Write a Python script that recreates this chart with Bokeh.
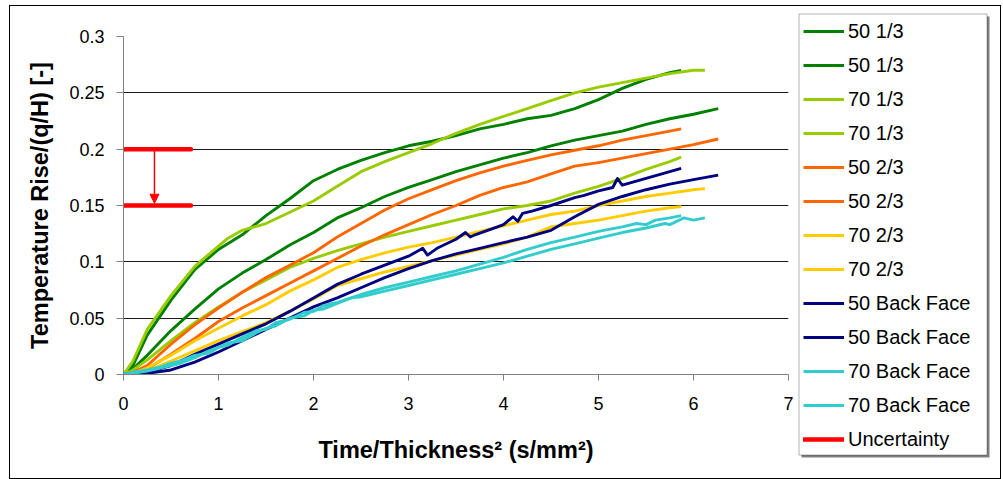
from bokeh.plotting import figure
from bokeh.layouts import row
from bokeh.models import (Range1d, FixedTicker, Legend, LegendItem, Arrow,
                          NormalHead, BoxAnnotation)
from bokeh.embed import file_html
from bokeh.resources import INLINE

# ---------------- data ----------------
x_ticks = [0, 1, 2, 3, 4, 5, 6, 7]
y_ticks = [0, 0.05, 0.1, 0.15, 0.2, 0.25, 0.3]
y_tick_labels = ["0", "0.05", "0.1", "0.15", "0.2", "0.25", "0.3"]

series_names = ["50 1/3", "50 1/3", "70 1/3", "70 1/3", "50 2/3", "50 2/3",
                "70 2/3", "70 2/3", "50 Back Face", "50 Back Face",
                "70 Back Face", "70 Back Face"]
series_colors = ["#008000", "#008000", "#99CC00", "#99CC00", "#FF6600", "#FF6600",
                 "#FFCC00", "#FFCC00", "#000080", "#000080", "#33CCCC", "#33CCCC"]

s50_13a_x = [0, 0.1, 0.25, 0.5, 0.75, 1.0, 1.25, 1.5, 1.75, 2.0, 2.25, 2.5, 2.75, 3.0,
             3.25, 3.5, 3.75, 4.0, 4.25, 4.5, 4.75, 5.0, 5.25, 5.5, 5.75, 5.87]
s50_13a_y = [0, 0.008, 0.035, 0.066, 0.093, 0.111, 0.124, 0.141, 0.156, 0.172, 0.182,
             0.190, 0.197, 0.203, 0.207, 0.212, 0.218, 0.222, 0.227, 0.230, 0.236,
             0.244, 0.254, 0.262, 0.268, 0.270]

s50_13b_x = [0, 0.1, 0.25, 0.5, 0.75, 1.0, 1.25, 1.5, 1.75, 2.0, 2.25, 2.5, 2.75, 3.0,
             3.25, 3.5, 3.75, 4.0, 4.25, 4.5, 4.75, 5.0, 5.25, 5.5, 5.75, 6.0, 6.26]
s50_13b_y = [0, 0.005, 0.017, 0.039, 0.058, 0.076, 0.090, 0.102, 0.115, 0.126, 0.139,
             0.148, 0.158, 0.166, 0.173, 0.180, 0.186, 0.192, 0.197, 0.203, 0.208,
             0.212, 0.216, 0.222, 0.227, 0.231, 0.236]

s70_13a_x = [0, 0.1, 0.25, 0.5, 0.75, 1.0, 1.1, 1.25, 1.5, 1.75, 2.0, 2.25, 2.5, 2.75,
             3.0, 3.25, 3.5, 3.75, 4.0, 4.25, 4.5, 4.75, 5.0, 5.25, 5.5, 5.75, 6.0, 6.12]
s70_13a_y = [0, 0.012, 0.040, 0.070, 0.096, 0.114, 0.121, 0.128, 0.134, 0.144, 0.154,
             0.167, 0.180, 0.189, 0.197, 0.205, 0.214, 0.222, 0.229, 0.236, 0.243,
             0.250, 0.255, 0.259, 0.263, 0.267, 0.270, 0.270]

s70_13b_x = [0, 0.1, 0.25, 0.5, 0.75, 1.0, 1.25, 1.5, 1.75, 2.0, 2.25, 2.5, 2.75, 3.0,
             3.25, 3.5, 3.75, 4.0, 4.25, 4.5, 4.75, 5.0, 5.25, 5.5, 5.75, 5.87]
s70_13b_y = [0, 0.004, 0.013, 0.030, 0.046, 0.060, 0.073, 0.084, 0.095, 0.103, 0.110,
             0.116, 0.122, 0.127, 0.132, 0.137, 0.142, 0.147, 0.150, 0.154, 0.161,
             0.167, 0.174, 0.182, 0.189, 0.193]

s50_23a_x = [0, 0.1, 0.25, 0.5, 0.75, 1.0, 1.25, 1.5, 1.75, 2.0, 2.25, 2.5, 2.75, 3.0,
             3.25, 3.5, 3.75, 4.0, 4.25, 4.5, 4.75, 5.0, 5.25, 5.5, 5.75, 5.87]
s50_23a_y = [0, 0.002, 0.008, 0.027, 0.044, 0.059, 0.073, 0.086, 0.097, 0.108, 0.122,
             0.134, 0.146, 0.156, 0.164, 0.172, 0.179, 0.185, 0.190, 0.195, 0.199,
             0.203, 0.208, 0.212, 0.216, 0.218]

s50_23b_x = [0, 0.1, 0.25, 0.5, 0.75, 1.0, 1.25, 1.5, 1.75, 2.0, 2.25, 2.5, 2.75, 3.0,
             3.25, 3.5, 3.75, 4.0, 4.25, 4.5, 4.75, 5.0, 5.25, 5.5, 5.75, 6.0, 6.26]
s50_23b_y = [0, 0.001, 0.005, 0.018, 0.032, 0.047, 0.059, 0.070, 0.081, 0.092, 0.103,
             0.114, 0.124, 0.133, 0.142, 0.150, 0.159, 0.166, 0.171, 0.178, 0.185,
             0.188, 0.192, 0.196, 0.200, 0.204, 0.209]

s70_23a_x = [0, 0.1, 0.25, 0.5, 0.75, 1.0, 1.25, 1.5, 1.75, 2.0, 2.25, 2.5, 2.75, 3.0,
             3.25, 3.5, 3.75, 4.0, 4.25, 4.5, 4.75, 5.0, 5.25, 5.5, 5.75, 6.0, 6.12]
s70_23a_y = [0, 0.001, 0.006, 0.017, 0.030, 0.041, 0.052, 0.062, 0.074, 0.084, 0.095,
             0.102, 0.108, 0.113, 0.117, 0.122, 0.127, 0.132, 0.137, 0.142, 0.145,
             0.150, 0.154, 0.158, 0.161, 0.164, 0.165]

s70_23b_x = [0, 0.25, 0.5, 0.75, 1.0, 1.25, 1.5, 1.75, 2.0, 2.25, 2.5, 2.75, 3.0, 3.25,
             3.5, 3.75, 4.0, 4.25, 4.5, 4.75, 5.0, 5.25, 5.5, 5.75, 5.87]
s70_23b_y = [0, 0.003, 0.012, 0.021, 0.030, 0.038, 0.046, 0.056, 0.067, 0.079, 0.085,
             0.091, 0.096, 0.101, 0.106, 0.111, 0.116, 0.122, 0.131, 0.134, 0.137,
             0.141, 0.145, 0.148, 0.149]

s50_bfa_x = [0, 0.25, 0.5, 0.75, 1.0, 1.25, 1.5, 1.75, 2.0, 2.25, 2.5, 2.75, 3.0, 3.15,
             3.2, 3.3, 3.5, 3.6, 3.65, 3.7, 3.9, 4.0, 4.1, 4.15, 4.2, 4.3, 4.5, 4.75,
             4.85, 5.0, 5.15, 5.2, 5.25, 5.5, 5.75, 5.87]
s50_bfa_y = [0, 0.002, 0.008, 0.018, 0.027, 0.036, 0.045, 0.056, 0.068, 0.080, 0.089,
             0.097, 0.105, 0.112, 0.106, 0.112, 0.120, 0.126, 0.122, 0.124, 0.130,
             0.133, 0.140, 0.136, 0.143, 0.145, 0.150, 0.157, 0.159, 0.163, 0.166,
             0.174, 0.168, 0.174, 0.180, 0.183]

s50_bfb_x = [0, 0.25, 0.5, 0.75, 1.0, 1.25, 1.5, 1.75, 2.0, 2.25, 2.5, 2.75, 3.0, 3.25,
             3.5, 3.75, 4.0, 4.25, 4.5, 4.75, 5.0, 5.25, 5.5, 5.75, 6.0, 6.26]
s50_bfb_y = [0, 0.001, 0.004, 0.011, 0.020, 0.030, 0.040, 0.050, 0.060, 0.068, 0.077,
             0.086, 0.094, 0.101, 0.107, 0.112, 0.117, 0.122, 0.128, 0.140, 0.151,
             0.158, 0.164, 0.169, 0.173, 0.177]

s70_bfa_x = [0, 0.1, 0.25, 0.4, 0.5, 0.6, 0.75, 0.9, 1.0, 1.1, 1.25, 1.4, 1.5, 1.6,
             1.75, 1.9, 2.0, 2.1, 2.25, 2.5, 2.75, 3.0, 3.25, 3.5, 3.75, 4.0, 4.25,
             4.5, 4.75, 5.0, 5.25, 5.4, 5.5, 5.6, 5.75, 5.87]
s70_bfa_y = [0, 0.001, 0.003, 0.006, 0.008, 0.010, 0.015, 0.021, 0.024, 0.026, 0.033,
             0.039, 0.040, 0.046, 0.049, 0.055, 0.056, 0.061, 0.064, 0.071, 0.077,
             0.082, 0.087, 0.092, 0.098, 0.104, 0.111, 0.117, 0.122, 0.127, 0.131,
             0.134, 0.133, 0.137, 0.139, 0.141]

s70_bfb_x = [0, 0.1, 0.25, 0.4, 0.5, 0.6, 0.75, 0.9, 1.0, 1.1, 1.25, 1.4, 1.5, 1.6,
             1.75, 1.9, 2.0, 2.1, 2.25, 2.4, 2.5, 2.75, 3.0, 3.25, 3.5, 3.75, 4.0,
             4.25, 4.5, 4.75, 5.0, 5.25, 5.5, 5.7, 5.75, 5.9, 6.0, 6.12]
s70_bfb_y = [0, 0.002, 0.004, 0.007, 0.010, 0.012, 0.017, 0.019, 0.024, 0.028, 0.030,
             0.037, 0.041, 0.043, 0.050, 0.052, 0.057, 0.058, 0.063, 0.068, 0.069,
             0.074, 0.079, 0.084, 0.089, 0.094, 0.099, 0.105, 0.111, 0.116, 0.121,
             0.126, 0.130, 0.134, 0.133, 0.139, 0.137, 0.139]

uncert_x = [0, 0.71]
uncert_high = 0.2
uncert_low = 0.15
uncert_arrow_x = 0.326

series_x = [s50_13a_x, s50_13b_x, s70_13a_x, s70_13b_x, s50_23a_x, s50_23b_x,
            s70_23a_x, s70_23b_x, s50_bfa_x, s50_bfb_x, s70_bfa_x, s70_bfb_x]
series_y = [s50_13a_y, s50_13b_y, s70_13a_y, s70_13b_y, s50_23a_y, s50_23b_y,
            s70_23a_y, s70_23b_y, s50_bfa_y, s50_bfb_y, s70_bfa_y, s70_bfb_y]

FONT = "Liberation Sans"
LINE_W = 2.9

# ---------------- main chart ----------------
p = figure(width=787, height=472, output_backend="svg", toolbar_location=None,
           x_range=Range1d(0, 7), y_range=Range1d(0, 0.3),
           min_border_left=113, min_border_right=9,
           min_border_top=30, min_border_bottom=104,
           background_fill_color="white", border_fill_color="white")
p.outline_line_color = None
p.frame_align = False

p.xaxis.ticker = FixedTicker(ticks=x_ticks)
p.yaxis.ticker = FixedTicker(ticks=y_ticks)
p.yaxis.major_label_overrides = {t: l for t, l in zip(y_ticks, y_tick_labels)}
p.xgrid.visible = False
p.ygrid.ticker = FixedTicker(ticks=y_ticks[1:])
p.ygrid.grid_line_color = "#1a1a1a"
p.ygrid.grid_line_width = 1

for ax in (p.xaxis[0], p.yaxis[0]):
    ax.axis_line_color = "#808080"
    ax.major_tick_line_color = "#808080"
    ax.minor_tick_line_color = None
    ax.major_tick_in = 0
    ax.major_label_text_font = FONT
    ax.major_label_text_font_size = "18px"
    ax.major_label_text_color = "black"
    ax.axis_label_text_font = FONT
    ax.axis_label_text_font_style = "bold"
    ax.axis_label_text_font_size = "23.5px"
    ax.axis_label_text_color = "black"

p.yaxis.major_tick_out = 7
p.xaxis.major_tick_out = 6
p.yaxis.major_label_standoff = 12
p.xaxis.major_label_standoff = 16
p.yaxis.axis_label = "Temperature Rise/(q/H) [-]"
p.xaxis.axis_label = "Time/Thickness\u00b2 (s/mm\u00b2)"
p.yaxis.axis_label_standoff = 13
p.xaxis.axis_label_standoff = 24

for xs, ys, col in zip(series_x, series_y, series_colors):
    p.line(xs, ys, line_color=col, line_width=LINE_W, line_join="round")

p.multi_line([uncert_x, uncert_x], [[uncert_high] * 2, [uncert_low] * 2],
             line_color="#FF0000", line_width=4.5, line_cap="round")
p.add_layout(Arrow(end=NormalHead(size=9, fill_color="#FF0000", line_color="#FF0000"),
                   x_start=uncert_arrow_x, y_start=uncert_high,
                   x_end=uncert_arrow_x, y_end=uncert_low + 0.002,
                   line_color="#FF0000", line_width=1.5))

# ---------------- legend panel ----------------
LW, LH = 203, 472
pl = figure(width=LW, height=LH, output_backend="svg", toolbar_location=None,
            x_range=Range1d(0, LW), y_range=Range1d(LH, 0),
            x_axis_type=None, y_axis_type=None,
            min_border_left=0, min_border_right=0, min_border_top=0,
            min_border_bottom=0, background_fill_color="white",
            border_fill_color="white")
pl.outline_line_color = None
pl.grid.visible = False
pl.frame_align = False

pl.add_layout(BoxAnnotation(left=4, right=192, top=10, bottom=451,
                            fill_color="#808080", fill_alpha=1, line_color=None))
pl.add_layout(BoxAnnotation(left=1.5, right=189.5, top=7.5, bottom=448.5,
                            fill_color="white", fill_alpha=1, line_color="black",
                            line_width=1))

hidden_x = [-50, -40]
hidden_y = [-50, -40]
items = []
for name, col in zip(series_names, series_colors):
    r = pl.line(x=hidden_x, y=hidden_y, line_color=col, line_width=LINE_W)
    items.append(LegendItem(label=name, renderers=[r]))
ru = pl.line(x=hidden_x, y=hidden_y, line_color="#FF0000", line_width=4.5,
             line_cap="round")
items.append(LegendItem(label="Uncertainty", renderers=[ru]))

legend = Legend(items=items, location=(6, 27), margin=0, padding=7,
                spacing=10, glyph_width=41, glyph_height=24, label_height=24,
                label_standoff=4, label_text_font=FONT,
                label_text_font_size="20px", label_text_color="black",
                border_line_color=None, background_fill_alpha=0)
pl.add_layout(legend, "center")

layout = row(p, pl, margin=(6, 3, 1, 10), styles={"outline": "1px solid black"})

open("out.html", "w").write(file_html(layout, INLINE))
